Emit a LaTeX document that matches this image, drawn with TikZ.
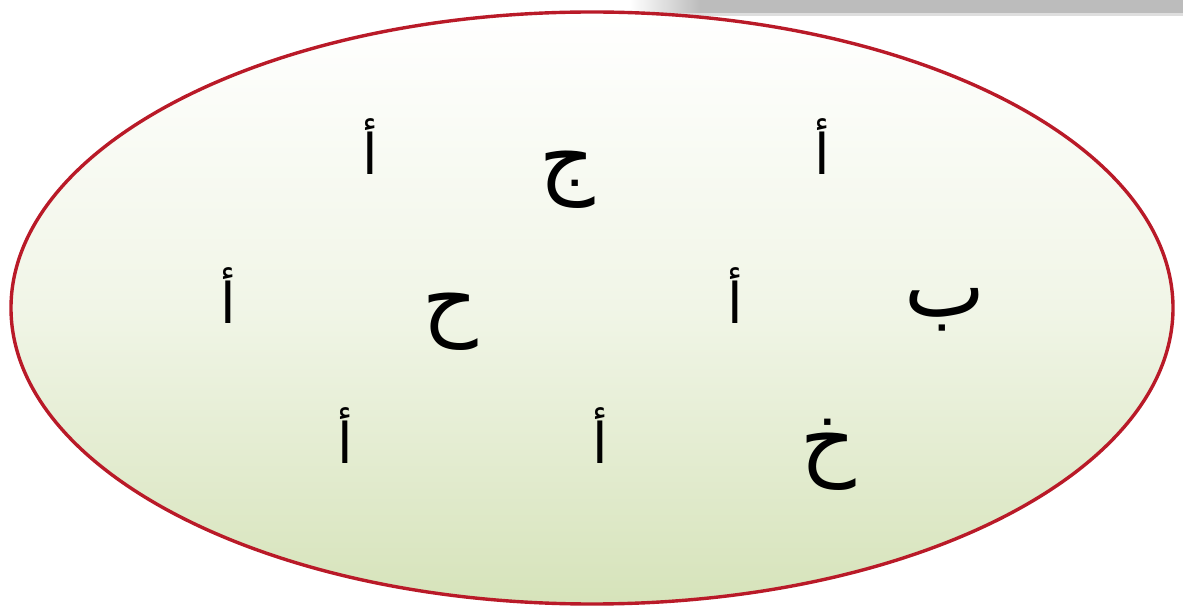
\documentclass[tikz,border=0pt]{standalone}
\usepackage{fontspec}
\usepackage{tikz}
\usetikzlibrary{shapes.geometric}
\newfontfamily\arabicfont[Script=Arabic]{DejaVu Sans}
\TeXXeTstate=1
\definecolor{setred}{RGB}{185,26,40}
\definecolor{setgreen}{RGB}{214,227,186}
\definecolor{setgray}{RGB}{188,188,188}

\begin{document}
\begin{tikzpicture}[
  x=1pt, y=-1pt,
  setbox/.style={ellipse, draw=setred, line width=3.4pt, top color=white, bottom color=setgreen, middle color=setgreen!35, minimum width=1162pt, minimum height=592pt, inner sep=0pt},
  letter/.style={font=\arabicfont\fontsize{56}{56}\selectfont, inner sep=0pt},
  bigletter/.style={font=\arabicfont\fontsize{86}{86}\selectfont, inner sep=0pt}
]
\useasboundingbox (0,0) rectangle (1183,609);
% gray band cut off at the top
\fill[setgray!50] (630,-20) rectangle (1200,16);
\shade[left color=white, right color=setgray] (630,-20) rectangle (700,13);
\fill[setgray] (700,-20) rectangle (1183,13);
\node[setbox] (set) at (592,308) {};
% letters
\node[letter] (a1) at (370,147) {\beginR أ\endR};
\node[bigletter] (jim) at (567,180) {\beginR ج\endR};
\node[letter] (a2) at (822,147) {\beginR أ\endR};
\node[letter] (a3) at (228,296) {\beginR أ\endR};
\node[bigletter] (ha) at (450,322) {\beginR ح\endR};
\node[letter] (a4) at (735,296) {\beginR أ\endR};
\node[bigletter] (ba) at (945,310) {\beginR ب\endR};
\node[letter] (a5) at (345,436) {\beginR أ\endR};
\node[letter] (a6) at (600,436) {\beginR أ\endR};
\node[bigletter] (kha) at (828,455) {\beginR خ\endR};
\end{tikzpicture}
\end{document}
